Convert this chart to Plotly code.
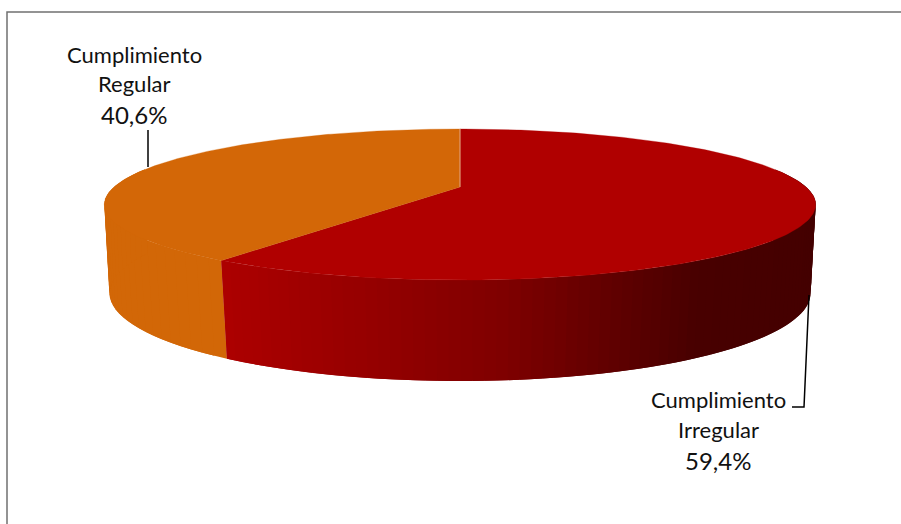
import numpy as np
import plotly.graph_objects as go

# Data
categories = ["Cumplimiento Irregular", "Cumplimiento Regular"]
label_lines = [["Cumplimiento", "Irregular"], ["Cumplimiento", "Regular"]]
value_labels = ["59,4%", "40,6%"]
values = [59.4, 40.6]

# Colours
top_colors = ["#B00000", "#D36707"]
side_stops_x = [225, 500, 700, 820]
side_stops_rgb = [(172, 0, 0), (128, 0, 0), (72, 0, 0), (68, 0, 0)]
side_orange = (210, 103, 7)
frame_color = "#707070"

# Projection of the pie disc (perspective view)
CX = 460
TOP = dict(A=187.0, a=71.5, b=346.0, k=0.232)
BOT = dict(A=273.7, a=83.7, b=342.0, k=0.22)


def project(deg, p, r=1.0):
    t = np.radians(deg)
    x, y = r * np.sin(t), r * np.cos(t)
    w = 1 + p["k"] * y
    return CX + p["b"] * x / w, p["A"] - p["a"] * y / w


total = sum(values)
split = values[0] / total * 360.0
fig = go.Figure()


def poly(xs, ys, color, lw=0.0):
    fig.add_trace(go.Scatter(x=xs, y=ys, mode="lines", fill="toself", fillcolor=color,
                             line=dict(color=color, width=lw), hoverinfo="skip",
                             showlegend=False))


def side_rgb(x, slice_idx):
    if slice_idx == 1:
        return "rgb(%d,%d,%d)" % side_orange
    c = [np.interp(x, side_stops_x, [s[i] for s in side_stops_rgb]) for i in range(3)]
    return "rgb(%d,%d,%d)" % tuple(int(round(v)) for v in c)


# Side wall, front part only: each facet runs on under the next one so no seams show
def wall(start, end, slice_idx, n, pts=3):
    edges = np.linspace(start, end, n + 1)
    step = edges[1] - edges[0]
    for i in range(n):
        a0 = edges[i]
        a1 = edges[i + 1] + (step if i < n - 1 else 0)
        ang = np.linspace(a0, a1, pts)
        tx, ty = project(ang, TOP)
        bx, by = project(ang[::-1], BOT)
        mid = (a0 + edges[i + 1]) / 2
        poly(np.r_[tx, bx, tx[0]], np.r_[ty, by, ty[0]],
             side_rgb(project(mid, TOP)[0], slice_idx))


wall(split, 285, 1, 30)
wall(75, split, 0, 90)

# Top faces
cum = 0.0
for i, v in enumerate(values):
    a0 = cum / total * 360.0
    a1 = (cum + v) / total * 360.0
    ang = np.linspace(a0, a1, 241)
    xs, ys = project(ang, TOP)
    ax, ay = project(0.0, TOP, 0.0)
    poly(np.r_[ax, xs, ax], np.r_[ay, ys, ay], top_colors[i], 0.3)
    cum += v

# Pale seam between slices at the back
sx, sy = project(0.0, TOP)
ax, ay = project(0.0, TOP, 0.0)
fig.add_trace(go.Scatter(x=[ax, sx], y=[ay, sy], mode="lines",
                         line=dict(color="#E2A98A", width=1), hoverinfo="skip", showlegend=False))

# Leader lines
leader_x = [[809, 804, 792], [148, 148]]
leader_y = [[295, 407, 407], [167, 130]]
for lx, ly in zip(leader_x, leader_y):
    fig.add_trace(go.Scatter(x=lx, y=ly, mode="lines", line=dict(color="#000000", width=1.5),
                             hoverinfo="skip", showlegend=False))

# Labels
label_cx = [718, 134]
label_ys = [[399, 429], [54, 83]]
pct_y = [460, 114]
for i in range(2):
    for line, y in zip(label_lines[i], label_ys[i]):
        fig.add_annotation(x=label_cx[i], y=y, text=line, showarrow=False,
                           font=dict(family="Lato", size=22, color="#111111"))
    fig.add_annotation(x=label_cx[i], y=pct_y[i], text=value_labels[i], showarrow=False,
                       font=dict(family="Lato", size=24, color="#111111"))

fig.update_layout(
    width=901, height=524, margin=dict(l=0, r=0, t=0, b=0),
    paper_bgcolor="white", plot_bgcolor="white", showlegend=False,
    xaxis=dict(range=[0, 901], visible=False, fixedrange=True),
    yaxis=dict(range=[524, 0], visible=False, fixedrange=True),
    shapes=[dict(type="path", path="M 7 524 L 7 12 L 901 12", xref="x", yref="y",
                 line=dict(color=frame_color, width=1.5))],
)
fig.write_html("out.html", config={"displayModeBar": False},
               post_script="document.body.style.margin='0';")
